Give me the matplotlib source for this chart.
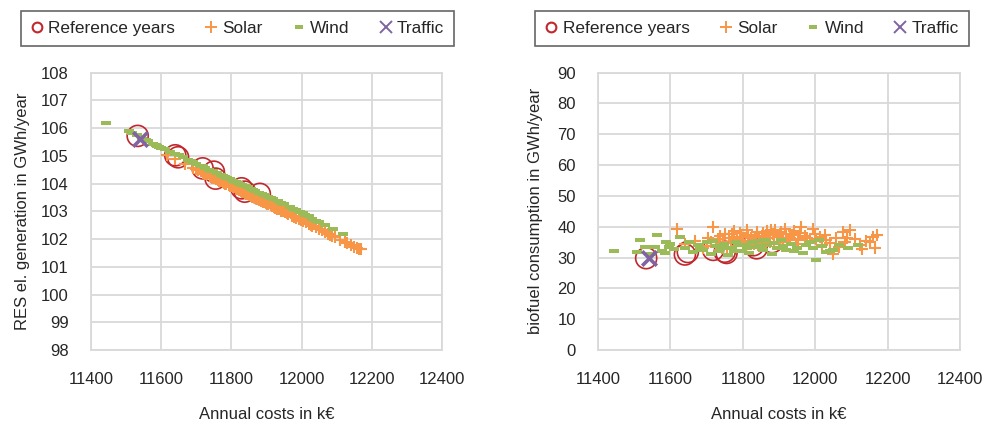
import matplotlib.pyplot as plt
from matplotlib.lines import Line2D

plt.rcParams['font.family'] = ['Liberation Sans', 'DejaVu Sans']
plt.rcParams['font.size'] = 12

# ====================================
# Data: scenario results
# ====================================

ref_cost = [11533, 11640, 11648, 11718, 11750, 11755, 11829, 11838, 11881]
ref_res = [105.72, 105.02, 104.95, 104.55, 104.43, 104.18, 103.83, 103.71, 103.63]
ref_bio = [29.8, 31.0, 31.8, 32.5, 31.9, 31.5, 34.0, 33.0, 35.0]

solar_cost = [11617, 11640, 11668, 11690, 11705, 11718, 11725, 11738, 11746, 11755,
              11762, 11770, 11778, 11785, 11792, 11800, 11808, 11815, 11822, 11830,
              11838, 11846, 11853, 11860, 11868, 11875, 11883, 11890, 11898, 11905,
              11912, 11920, 11930, 11940, 11952, 11962, 11972, 11985, 11993, 12003,
              12012, 12020, 12030, 12040, 12049, 12058, 12066, 12076, 12088, 12095,
              12123, 12130, 12140, 12159, 12165, 12170,
              11700, 11712, 11731, 11742, 11750, 11766, 11775, 11782, 11796, 11804,
              11812, 11826, 11834, 11842, 11856, 11864, 11872, 11879, 11887, 11894,
              11902, 11916, 11925, 11935, 11946, 11958, 11978, 11998, 12026, 12082,
              12110, 12150]
solar_res = [105.03, 104.88, 104.72, 104.58, 104.50, 104.40, 104.36, 104.29, 104.22, 104.18,
             104.12, 104.08, 104.03, 103.98, 103.95, 103.90, 103.86, 103.80, 103.77, 103.70,
             103.66, 103.61, 103.58, 103.52, 103.48, 103.45, 103.38, 103.35, 103.30, 103.25,
             103.22, 103.16, 103.10, 103.03, 102.97, 102.90, 102.84, 102.76, 102.72, 102.65,
             102.60, 102.55, 102.48, 102.42, 102.37, 102.31, 102.26, 102.20, 102.12, 102.08,
             101.90, 101.86, 101.80, 101.68, 101.63, 101.66,
             104.54, 104.46, 104.34, 104.27, 104.20, 104.10, 104.04, 104.00, 103.92, 103.88,
             103.82, 103.74, 103.68, 103.63, 103.55, 103.50, 103.46, 103.41, 103.36, 103.32,
             103.27, 103.19, 103.13, 103.07, 103.00, 102.93, 102.80, 102.68, 102.50, 102.16,
             101.97, 101.72]
solar_bio = [39.3, 34.5, 35.5, 33.0, 36.5, 39.8, 34.2, 37.0, 35.0, 33.5,
             36.2, 37.5, 34.8, 36.0, 38.0, 35.5, 33.8, 37.2, 36.5, 34.5,
             38.3, 35.8, 37.0, 36.0, 38.5, 35.2, 37.6, 39.0, 36.8, 38.2,
             35.5, 37.8, 36.5, 38.6, 35.8, 39.8, 37.0, 35.0, 39.4, 36.0,
             36.8, 34.0, 35.8, 34.6, 31.0, 36.5, 33.5, 38.3, 36.2, 38.8,
             34.0, 32.8, 35.5, 36.8, 33.0, 37.3,
             33.8, 35.2, 36.0, 33.2, 37.8, 35.0, 38.6, 33.6, 36.8, 34.2,
             38.8, 35.4, 36.8, 34.0, 38.0, 34.6, 36.4, 38.9, 34.4, 37.2,
             35.0, 39.2, 35.6, 37.3, 34.5, 38.0, 36.2, 37.8, 37.2, 35.0,
             36.0, 35.2]

wind_cost = [11443, 11507, 11516, 11530, 11545, 11557, 11562, 11578, 11585, 11589,
             11595, 11626, 11640, 11662, 11675, 11690, 11700, 11712, 11725, 11735,
             11748, 11760, 11770, 11782, 11795, 11806, 11818, 11830, 11842, 11855,
             11868, 11880, 11893, 11905, 11918, 11932, 11950, 11966, 11985, 12003,
             12020, 12042, 12049, 12118,
             11600, 11610, 11650, 11682, 11718, 11742, 11776, 11788, 11812, 11824,
             11848, 11862, 11886, 11912, 11940, 11975, 11995, 12010, 12030, 12066,
             12090]
wind_res = [106.17, 105.88, 105.82, 105.76, 105.62, 105.58, 105.55, 105.42, 105.38, 105.36,
            105.33, 105.15, 105.07, 104.95, 104.85, 104.78, 104.72, 104.65, 104.57, 104.50,
            104.44, 104.37, 104.32, 104.24, 104.17, 104.10, 104.03, 103.96, 103.90, 103.82,
            103.75, 103.67, 103.60, 103.52, 103.45, 103.36, 103.25, 103.16, 103.05, 102.93,
            102.82, 102.65, 102.62, 102.18,
            105.30, 105.24, 105.02, 104.82, 104.62, 104.47, 104.28, 104.20, 104.06, 104.00,
            103.86, 103.78, 103.64, 103.48, 103.31, 103.10, 102.98, 102.88, 102.74, 102.50,
            102.35]
wind_bio = [32.2, 31.9, 35.7, 33.5, 31.0, 33.5, 37.3, 32.2, 31.5, 35.2,
            33.5, 36.7, 33.0, 31.9, 34.0, 32.5, 35.0, 31.0, 33.8, 32.0,
            34.5, 30.8, 33.0, 35.0, 32.0, 34.2, 31.5, 33.5, 35.5, 32.3,
            34.0, 31.2, 33.2, 35.8, 32.6, 34.5, 33.0, 31.6, 35.0, 29.2,
            33.8, 32.0, 32.5, 34.1,
            34.5, 32.8, 35.0, 33.0, 35.5, 33.2, 32.0, 34.0, 33.0, 35.0,
            33.6, 35.8, 34.6, 33.8, 32.2, 34.0, 33.2, 35.6, 31.8, 34.0,
            33.0]

traffic_cost = [11540]
traffic_res = [105.62]
traffic_bio = [29.8]

# ====================================
# Style
# ====================================

c_ref = '#c0282d'
c_solar = '#f79646'
c_wind = '#9bbb59'
c_traffic = '#8064a2'
c_grid = '#d9d9d9'
c_text = '#262626'

# short flat bar used as the "dash" marker
dash = [(-1, -0.45), (1, -0.45), (1, 0.45), (-1, 0.45), (-1, -0.45)]

fig = plt.figure(figsize=(9.87, 4.26), dpi=100)

ax1 = fig.add_axes([0.0922, 0.1784, 0.3556, 0.651])
ax2 = fig.add_axes([0.6059, 0.1784, 0.3668, 0.651])


def draw(ax, y_ref, y_solar, y_wind, y_traffic):
    ax.scatter(ref_cost, y_ref, s=230, facecolors='none', edgecolors=c_ref,
               linewidths=1.2, zorder=3)
    ax.scatter(solar_cost, y_solar, s=75, marker='+', color=c_solar,
               linewidths=1.5, zorder=4)
    ax.scatter(wind_cost, y_wind, s=45, marker=dash, color=c_wind,
               linewidths=0, zorder=5)
    ax.scatter(traffic_cost, y_traffic, s=110, marker='x', color=c_traffic,
               linewidths=2.6, zorder=6)

    ax.set_xlim(11400, 12400)
    ax.set_xticks(range(11400, 12401, 200))
    ax.grid(True, color=c_grid, linewidth=1.3)
    ax.set_axisbelow(True)
    for sp in ax.spines.values():
        sp.set_color(c_grid)
        sp.set_linewidth(1.3)
    ax.tick_params(length=0, pad=16, labelcolor=c_text, labelsize=12)
    ax.set_xlabel('Annual costs in k€', color=c_text, fontsize=12, labelpad=14)


draw(ax1, ref_res, solar_res, wind_res, traffic_res)
ax1.set_ylim(98, 108)
ax1.set_yticks(range(98, 109, 1))
ax1.set_ylabel('RES el. generation in GWh/year', color=c_text, fontsize=12, labelpad=8)

draw(ax2, ref_bio, solar_bio, wind_bio, traffic_bio)
ax2.set_ylim(0, 90)
ax2.set_yticks(range(0, 91, 10))
ax2.set_ylabel('biofuel consumption in GWh/year', color=c_text, fontsize=12, labelpad=10)

# ====================================
# Legends
# ====================================

handles = [
    Line2D([], [], linestyle='none', marker='o', markersize=7, markerfacecolor='none',
           markeredgecolor=c_ref, markeredgewidth=1.5),
    Line2D([], [], linestyle='none', marker='+', markersize=9, color=c_solar,
           markeredgewidth=1.4),
    Line2D([], [], linestyle='none', marker=dash, markersize=6, color=c_wind,
           markeredgewidth=0),
    Line2D([], [], linestyle='none', marker='x', markersize=8, color=c_traffic,
           markeredgewidth=1.4),
]
labels = ['Reference years', 'Solar', 'Wind', 'Traffic']

for cx in [237.5 / 987, 752 / 987]:
    leg = fig.legend(handles, labels, loc='center', bbox_to_anchor=(cx, 0.933),
                     ncol=4, frameon=True, fancybox=False, fontsize=12.4,
                     handlelength=0.7, handletextpad=0.3, columnspacing=1.75,
                     borderpad=0.6, labelcolor=c_text)
    leg.get_frame().set_edgecolor('#404040')
    leg.get_frame().set_linewidth(1.2)

fig.savefig('out.png', dpi=100)
